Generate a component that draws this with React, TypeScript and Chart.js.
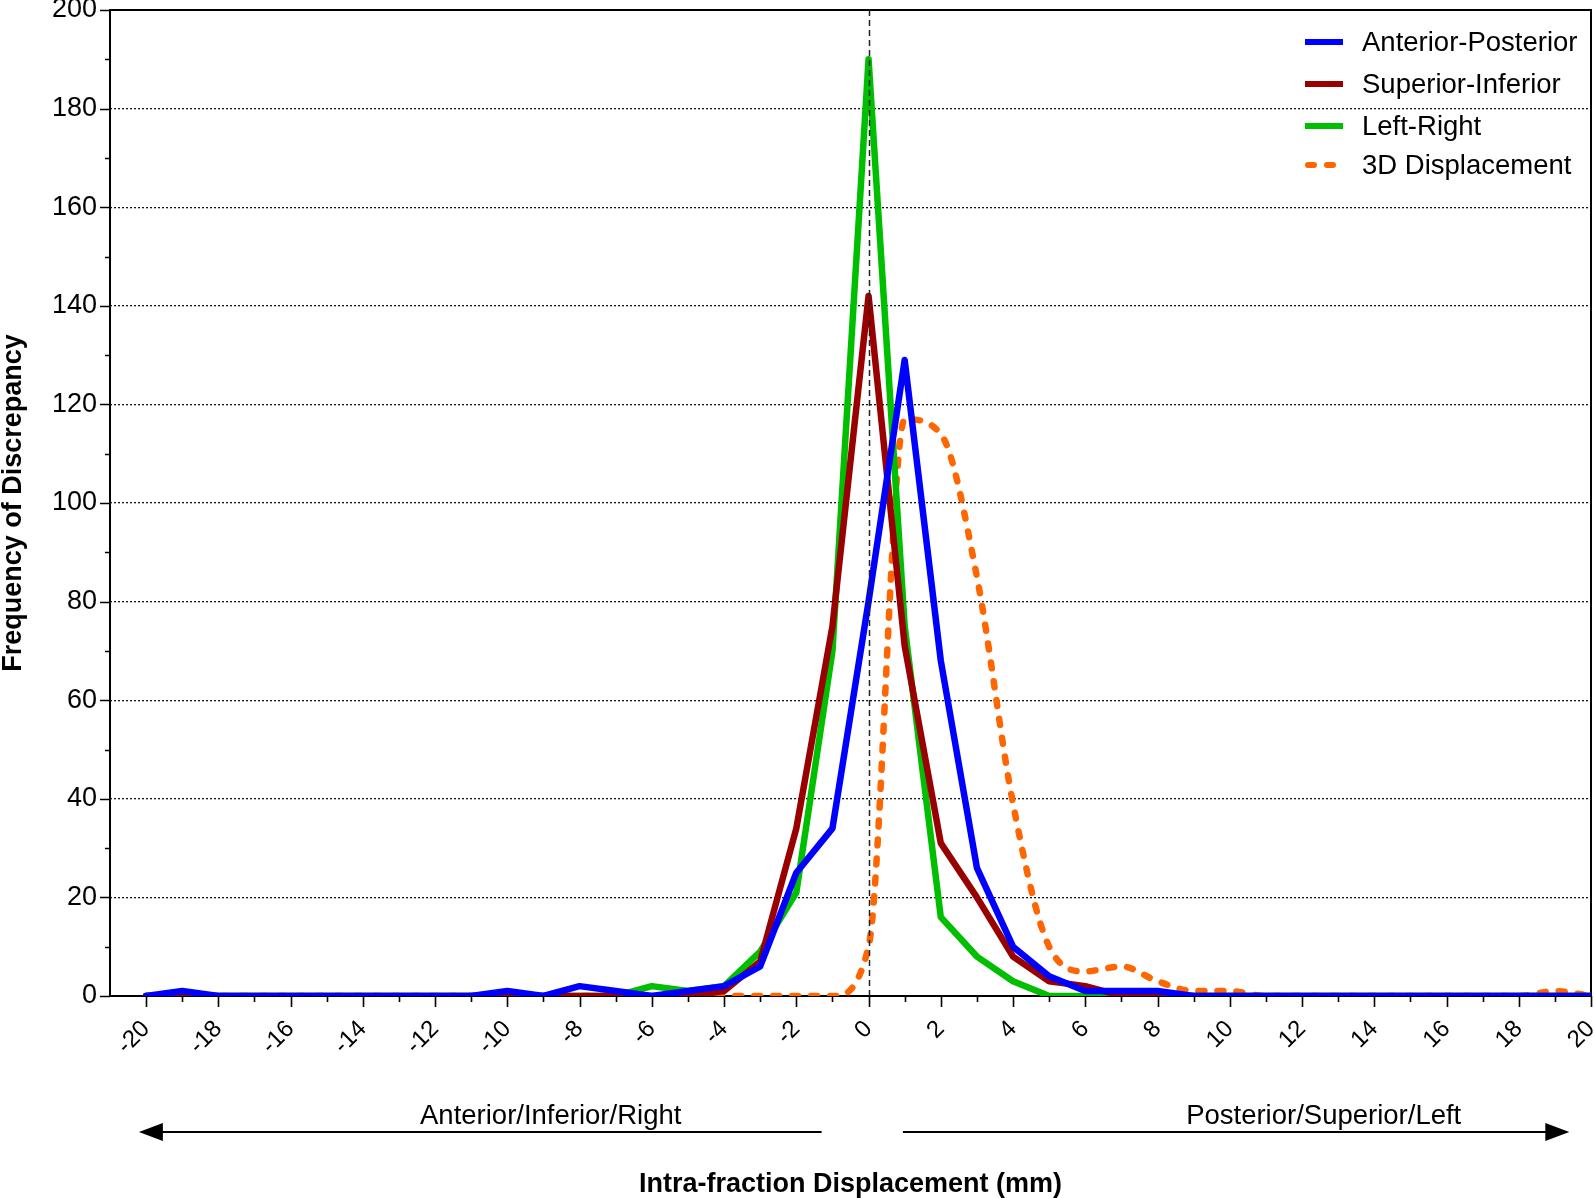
import React, { useEffect, useRef } from 'react';
import { Chart, registerables } from 'chart.js';

Chart.register(...registerables);

// Displacement bins (mm)
const displacementMm = [
  -20, -19, -18, -17, -16, -15, -14, -13, -12, -11,
  -10, -9, -8, -7, -6, -5, -4, -3, -2, -1,
  0, 1, 2, 3, 4, 5, 6, 7, 8, 9,
  10, 11, 12, 13, 14, 15, 16, 17, 18, 19, 20,
];

const anteriorPosterior = [
  0, 1, 0, 0, 0, 0, 0, 0, 0, 0,
  1, 0, 2, 1, 0, 1, 2, 6, 25, 34,
  80, 129, 68, 26, 10, 4, 1, 1, 1, 0,
  0, 0, 0, 0, 0, 0, 0, 0, 0, 0, 0,
];

const superiorInferior = [
  0, 0, 0, 0, 0, 0, 0, 0, 0, 0,
  0, 0, 0, 0, 0, 0, 1, 7, 34, 75,
  142, 71, 31, 20, 8, 3, 2, 0, 0, 0,
  0, 0, 0, 0, 0, 0, 0, 0, 0, 0, 0,
];

const leftRight = [
  0, 0, 0, 0, 0, 0, 0, 0, 0, 0,
  0, 0, 0, 0, 2, 1, 2, 9, 21, 70,
  190, 75, 16, 8, 3, 0, 0, 0, 0, 0,
  0, 0, 0, 0, 0, 0, 0, 0, 0, 0, 0,
];

const displacement3D = [
  0, 0, 0, 0, 0, 0, 0, 0, 0, 0,
  0, 0, 0, 0, 0, 0, 0, 0, 0, 0,
  10, 117, 114, 85, 39, 10, 5, 6, 3, 1,
  1, 0, 0, 0, 0, 0, 0, 0, 0, 1, 0,
];

const seriesNames = ['Anterior-Posterior', 'Superior-Inferior', 'Left-Right', '3D Displacement'];
const seriesColors = ['#0000ff', '#990000', '#00bf00', '#ff6600'];

const yTickValues = [0, 20, 40, 60, 80, 100, 120, 140, 160, 180, 200];
const xTickValues = [-20, -18, -16, -14, -12, -10, -8, -6, -4, -2, 0, 2, 4, 6, 8, 10, 12, 14, 16, 18, 20];

const directionLabels = ['Anterior/Inferior/Right', 'Posterior/Superior/Left'];
const xTitle = 'Intra-fraction Displacement (mm)';
const yTitle = 'Frequency of Discrepancy';

const FONT = "'Liberation Sans', Arial, sans-serif";

const toPoints = (vals: number[]) => displacementMm.map((x, i) => ({ x, y: vals[i] }));

const decorPlugin = {
  id: 'decor',
  beforeDatasetsDraw(chart: any) {
    const { ctx, chartArea: a, scales } = chart;
    const x = scales.x;
    const y = scales.y;
    ctx.save();
    ctx.strokeStyle = '#000';
    ctx.lineWidth = 2;
    ctx.setLineDash([]);
    ctx.strokeRect(a.left, a.top, a.right - a.left, a.bottom - a.top);
    ctx.lineWidth = 1.6;
    ctx.beginPath();
    for (let v = -20; v <= 20; v++) {
      const px = Math.round(x.getPixelForValue(v)) + 0.5;
      const len = v % 2 === 0 ? 11 : 6;
      ctx.moveTo(px, a.bottom);
      ctx.lineTo(px, a.bottom + len);
    }
    for (let v = 0; v <= 200; v += 10) {
      const py = Math.round(y.getPixelForValue(v)) + 0.5;
      const len = v % 20 === 0 ? 10 : 5;
      ctx.moveTo(a.left, py);
      ctx.lineTo(a.left - len, py);
    }
    ctx.stroke();
    ctx.restore();
  },
  afterDatasetsDraw(chart: any) {
    const { ctx, chartArea: a, scales } = chart;
    const x = scales.x;
    ctx.save();
    // zero reference line
    const x0 = Math.round(x.getPixelForValue(0)) + 0.5;
    ctx.strokeStyle = '#222';
    ctx.lineWidth = 1.5;
    ctx.setLineDash([6, 4]);
    ctx.beginPath();
    ctx.moveTo(x0, a.top);
    ctx.lineTo(x0, a.bottom);
    ctx.stroke();

    // legend
    const rows = [42, 84, 126, 165];
    chart.data.datasets.forEach((ds: any, i: number) => {
      const yy = rows[i];
      ctx.strokeStyle = ds.borderColor;
      ctx.lineWidth = 6;
      if (ds.borderDash && ds.borderDash.length) {
        ctx.setLineDash([6, 13]);
        ctx.lineCap = 'round';
        ctx.beginPath();
        ctx.moveTo(1308, yy);
        ctx.lineTo(1343, yy);
        ctx.stroke();
      } else {
        ctx.setLineDash([]);
        ctx.lineCap = 'butt';
        ctx.beginPath();
        ctx.moveTo(1305, yy);
        ctx.lineTo(1343, yy);
        ctx.stroke();
      }
      ctx.setLineDash([]);
      ctx.fillStyle = '#000';
      ctx.font = `27.5px ${FONT}`;
      ctx.textAlign = 'left';
      ctx.textBaseline = 'middle';
      ctx.fillText(ds.label, 1362, yy + 1);
    });
    ctx.restore();
  },
  afterDraw(chart: any) {
    const { ctx, scales } = chart;
    const x = scales.x;
    ctx.save();
    const ay = 1132;
    ctx.strokeStyle = '#000';
    ctx.fillStyle = '#000';
    ctx.lineWidth = 2;
    // left arrow
    const lTip = x.getPixelForValue(-20.2);
    const lEnd = x.getPixelForValue(-1.3);
    ctx.beginPath();
    ctx.moveTo(lTip + 20, ay);
    ctx.lineTo(lEnd, ay);
    ctx.stroke();
    ctx.beginPath();
    ctx.moveTo(lTip, ay);
    ctx.lineTo(lTip + 24, ay - 9);
    ctx.lineTo(lTip + 24, ay + 9);
    ctx.closePath();
    ctx.fill();
    // right arrow
    const rStart = x.getPixelForValue(0.95);
    const rTip = x.getPixelForValue(19.4);
    ctx.beginPath();
    ctx.moveTo(rStart, ay);
    ctx.lineTo(rTip - 20, ay);
    ctx.stroke();
    ctx.beginPath();
    ctx.moveTo(rTip, ay);
    ctx.lineTo(rTip - 24, ay - 9);
    ctx.lineTo(rTip - 24, ay + 9);
    ctx.closePath();
    ctx.fill();
    // direction labels
    ctx.font = `27.5px ${FONT}`;
    ctx.textAlign = 'center';
    ctx.textBaseline = 'alphabetic';
    ctx.fillText(directionLabels[0], x.getPixelForValue(-8.8), 1124);
    ctx.fillText(directionLabels[1], x.getPixelForValue(12.6), 1124);
    ctx.restore();
  },
};

export default function App() {
  const ref = useRef<HTMLCanvasElement>(null);

  useEffect(() => {
    document.body.style.margin = '0';
    const canvas = ref.current;
    if (!canvas) return;
    const seriesData = [anteriorPosterior, superiorInferior, leftRight, displacement3D];
    const chart = new Chart(canvas, {
      type: 'line',
      data: {
        datasets: seriesData.map((vals, i) => ({
          label: seriesNames[i],
          data: toPoints(vals),
          borderColor: seriesColors[i],
          backgroundColor: seriesColors[i],
          borderWidth: 6.5,
          pointRadius: 0,
          pointHoverRadius: 0,
          fill: false,
          tension: 0,
          borderJoinStyle: 'round',
          borderCapStyle: 'round',
          ...(i === 3
            ? { borderDash: [6, 13], cubicInterpolationMode: 'monotone' }
            : {}),
        })) as any,
      },
      options: {
        responsive: false,
        animation: false,
        events: [],
        layout: { padding: { top: 10, right: 3, left: 0, bottom: 0 } },
        plugins: {
          legend: { display: false },
          tooltip: { enabled: false },
        },
        scales: {
          x: {
            type: 'linear',
            min: -21,
            max: 20,
            afterBuildTicks: (s: any) => {
              s.ticks = xTickValues.map((v) => ({ value: v }));
            },
            afterFit: (s: any) => {
              s.height = 202;
              s.paddingLeft = 0;
              s.paddingRight = 0;
            },
            grid: { display: false, drawTicks: false },
            border: { display: false },
            ticks: {
              autoSkip: false,
              maxRotation: 45,
              minRotation: 45,
              padding: 19,
              color: '#000',
              font: { family: FONT, size: 24 },
              callback: (v: any) => String(v),
            },
            title: {
              display: true,
              text: xTitle,
              color: '#000',
              font: { family: FONT, size: 27, weight: 'bold', lineHeight: 1 },
              padding: 0,
            },
          },
          y: {
            type: 'linear',
            min: 0,
            max: 200,
            afterBuildTicks: (s: any) => {
              s.ticks = yTickValues.map((v) => ({ value: v }));
            },
            afterFit: (s: any) => {
              s.width = 110;
              s.paddingTop = 0;
              s.paddingBottom = 0;
            },
            grid: {
              drawTicks: false,
              lineWidth: 1.3,
              color: (c: any) =>
                c.tick && (c.tick.value === 0 || c.tick.value === 200) ? 'rgba(0,0,0,0)' : '#111',
            },
            border: { display: false, dash: [2, 2] },
            ticks: {
              padding: 13,
              color: '#000',
              font: { family: FONT, size: 27 },
              callback: (v: any) => String(v),
            },
            title: {
              display: true,
              text: yTitle,
              color: '#000',
              font: { family: FONT, size: 27, weight: 'bold', lineHeight: 1 },
              padding: 0,
            },
          },
        },
      } as any,
      plugins: [decorPlugin],
    });
    return () => chart.destroy();
  }, []);

  return (
    <div style={{ width: 1594, height: 1198 }}>
      <canvas ref={ref} width={1594} height={1198} style={{ display: 'block' }} />
    </div>
  );
}
